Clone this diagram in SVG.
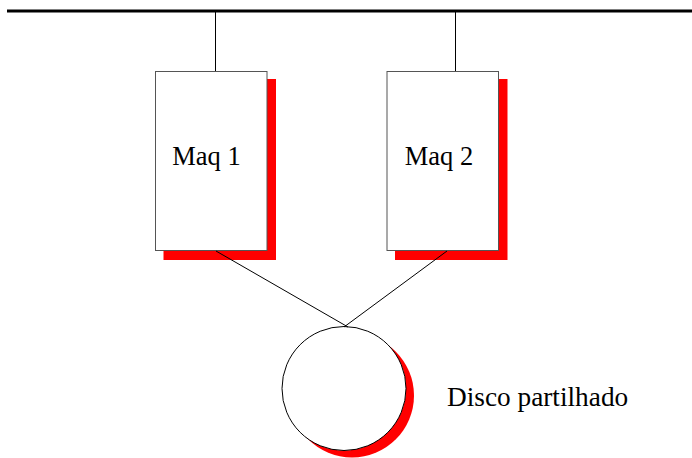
<svg xmlns="http://www.w3.org/2000/svg" width="692" height="458" viewBox="0 0 692 458">
  <style>
    .shadow { fill: #ff0000; stroke: none; }
    .box { fill: #ffffff; stroke: #555555; stroke-width: 1; }
    .disk { fill: #ffffff; stroke: #000000; stroke-width: 1; }
    .wire { stroke: #000000; stroke-width: 1; fill: none; }
    .bus { stroke: #000000; stroke-width: 3; fill: none; }
    .label { font-family: "Liberation Serif", "Times New Roman", serif; font-size: 26.5px; fill: #000000; }
    .caption { font-size: 27.3px; }
  </style>
  <rect width="692" height="458" fill="#ffffff"/>

  <g id="maq1">
    <rect class="shadow" x="163.5" y="79" width="112.5" height="181"/>
    <rect class="box" x="155.5" y="71.5" width="111.5" height="179"/>
    <text class="label" x="206.5" y="164.5" text-anchor="middle">Maq 1</text>
  </g>

  <g id="maq2">
    <rect class="shadow" x="395" y="79" width="112.5" height="181"/>
    <rect class="box" x="387" y="71.5" width="111.5" height="179"/>
    <text class="label" x="439" y="164.5" text-anchor="middle">Maq 2</text>
  </g>

  <g id="disco">
    <circle class="shadow" cx="352" cy="395.5" r="62"/>
    <circle class="disk" cx="344" cy="388.5" r="62"/>
    <text class="label caption" x="447" y="406">Disco partilhado</text>
  </g>

  <!-- network bus and links, drawn over the node shadows -->
  <g id="connectors">
    <line class="bus" x1="7" y1="11" x2="692" y2="11"/>
    <line class="wire" x1="215.5" y1="11" x2="215.5" y2="71"/>
    <line class="wire" x1="455.5" y1="11" x2="455.5" y2="71"/>
    <line class="wire" x1="216" y1="251" x2="348" y2="327"/>
    <line class="wire" x1="447" y1="251" x2="344" y2="327"/>
  </g>
</svg>
